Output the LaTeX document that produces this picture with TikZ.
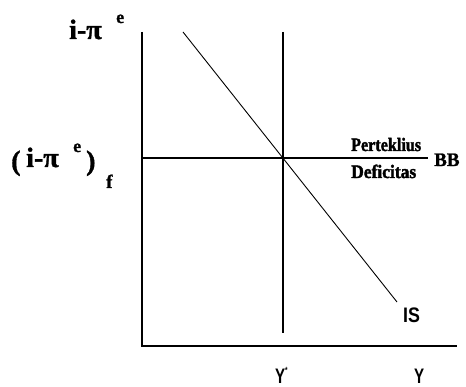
\documentclass[tikz,border=0pt]{standalone}
\usepackage{fontspec}
\setmainfont{Liberation Serif}[BoldFeatures={FakeBold=1.2}]
\setsansfont{Liberation Sans}
\newfontfamily\heavyserif{Liberation Serif}[BoldFeatures={FakeBold=2}]
\begin{document}
\begin{tikzpicture}[x=1pt,y=-1pt,
  ax/.style={line width=1.3pt},
  ln/.style={line width=1.1pt},
  ser/.style={inner sep=0pt, anchor=base west},
  san/.style={inner sep=0pt, anchor=base west}]
\useasboundingbox (0,0) rectangle (466,387);
% axes
\coordinate (O) at (142,346);
\coordinate (Ytop) at (142,32);
\coordinate (Xend) at (457,346);
\draw[ax] (Ytop) -- (O) -- (Xend);
% vertical Y* line
\coordinate (Vt) at (283,32);
\coordinate (Vb) at (283,333);
\draw[ln] (Vt) -- (Vb);
% BB line
\coordinate (Bl) at (142,158);
\coordinate (Br) at (428,158);
\draw[ln] (Bl) -- (Br);
% IS line
\coordinate (It) at (183,32);
\coordinate (Ib) at (397,302);
\draw[line width=0.9pt] (It) -- (Ib);
% labels
\node[ser, font=\fontsize{28}{28}\selectfont\bfseries] (lab1) at (69,39) {i-π};
\node[ser, font=\fontsize{18}{18}\selectfont\bfseries] (lab1e) at (116,23) {e};
\node[ser, font=\fontsize{28}{28}\selectfont\bfseries] (lab2a) at (11,170) {(};
\node[ser, font=\fontsize{28}{28}\selectfont\bfseries] (lab2) at (26,167) {i-π};
\node[ser, font=\fontsize{18}{18}\selectfont\bfseries] (lab2e) at (73,152) {e};
\node[ser, font=\fontsize{28}{28}\selectfont\bfseries] (lab2p) at (86,170) {)};
\node[ser, font=\fontsize{19}{19}\selectfont\bfseries] (lab2f) at (106,188) {f};
\node[ser, font=\fontsize{19}{19}\selectfont\heavyserif\bfseries, xscale=0.85] (per) at (351,151) {Perteklius};
\node[ser, font=\fontsize{19}{19}\selectfont\heavyserif\bfseries, xscale=0.92] (def) at (351,178) {Deficitas};
\node[ser, font=\fontsize{19}{19}\selectfont\bfseries] (bb) at (434,166) {BB};
\node[san, font=\fontsize{21}{21}\selectfont\sffamily\bfseries, xscale=0.85] (is) at (403,323) {IS};
\node[san, font=\fontsize{21}{21}\selectfont\sffamily\bfseries, xscale=0.72] (ys) at (275,383) {Y\raisebox{0.45em}{\fontsize{9}{9}\selectfont *}};
\node[san, font=\fontsize{21}{21}\selectfont\sffamily\bfseries, xscale=0.72] (y) at (414,383) {Y};
\end{tikzpicture}
\end{document}
